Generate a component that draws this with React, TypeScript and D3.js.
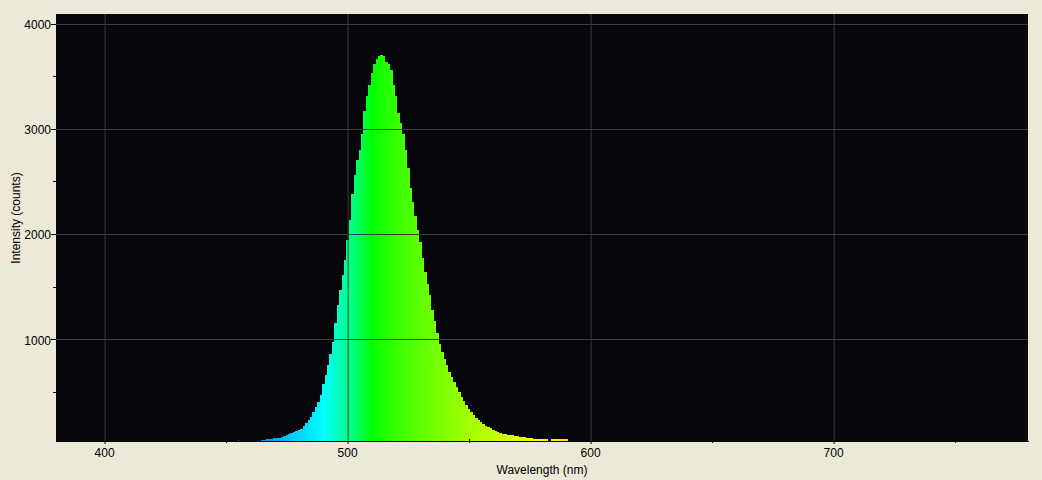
import React from "react";
import * as d3 from "d3";

const startWavelength = 455;
const counts = [
  44, 20, 15, 15, 15, 15, 15, 15, 15, 20,
  40, 40, 48, 50, 52, 56, 60, 63, 70, 78,
  88, 98, 106, 115, 124, 132, 148, 172, 200, 226,
  262, 305, 350, 400, 470, 575, 660, 750, 860, 975,
  1150, 1320, 1470, 1610, 1750, 1940, 2130, 2380, 2560, 2700,
  2800, 2950, 3170, 3310, 3420, 3530, 3620, 3660, 3690, 3700,
  3690, 3640, 3615, 3560, 3420, 3310, 3150, 3060, 2950, 2800,
  2630, 2440, 2300, 2170, 2040, 1920, 1770, 1640, 1520, 1420,
  1280, 1170, 1060, 950, 880, 810, 750, 690, 640, 590,
  545, 500, 450, 410, 370, 335, 305, 275, 250, 228,
  210, 190, 178, 168, 150, 134, 130, 118, 108, 100,
  94, 91, 89, 84, 80, 76, 72, 70, 66, 63,
  58, 55, 52, 50, 50, 50, 50, 50, 25, 50,
  50, 50, 50, 50, 50, 50, 20,
];
const wavelengths = counts.map((_, i) => startWavelength + i);

const xMajorTicks = [400, 500, 600, 700];
const xMinorTicks = [450, 550, 650, 750];
const yMajorTicks = [1000, 2000, 3000, 4000];
const yMinorTicks = [500, 1500, 2500, 3500];

const xLabel = "Wavelength (nm)";
const yLabel = "Intensity (counts)";

function spectralColor(w: number): string {
  let r = 0, g = 0, b = 0;
  if (w < 440) { r = -(w - 440) / 60; b = 1; }
  else if (w < 490) { g = (w - 440) / 50; b = 1; }
  else if (w < 510) { g = 1; b = -(w - 510) / 20; }
  else if (w < 580) { r = (w - 510) / 70; g = 1; }
  else if (w < 645) { r = 1; g = -(w - 645) / 65; }
  else { r = 1; }
  const gm = 0.8;
  const f = (c: number) => Math.round(255 * Math.pow(Math.max(0, c), gm));
  return `rgb(${f(r)},${f(g)},${f(b)})`;
}

const W = 1042, H = 480;
const L = 56, R = 1028, T = 14, B = 441;
const FONT = "'Liberation Sans', Arial, sans-serif";

export default function App() {
  const x = d3.scaleLinear().domain([380, 780]).range([L, R]);
  const y = d3.scaleLinear().domain([31, 4092]).range([B, T]);
  const yMin = y.domain()[0];

  const data = wavelengths.map((w, i) => ({ w, v: counts[i] }));
  const area = d3
    .area<{ w: number; v: number }>()
    .x((d) => x(d.w))
    .y0(y(yMin))
    .y1((d) => y(Math.max(d.v, yMin)))
    .curve(d3.curveStep);

  const gradStops = d3.range(380, 781, 5);

  return (
    <svg width={W} height={H} style={{ position: "absolute", left: 0, top: 0, display: "block" }}>
      <defs>
        <linearGradient id="spec" gradientUnits="userSpaceOnUse" x1={x(380)} x2={x(780)} y1={0} y2={0}>
          {gradStops.map((w) => (
            <stop key={w} offset={(w - 380) / 400} stopColor={spectralColor(w)} />
          ))}
        </linearGradient>
        <clipPath id="plotclip">
          <rect x={L} y={T} width={R - L} height={B - T} />
        </clipPath>
      </defs>
      <rect x={0} y={0} width={W} height={H} fill="#ECE9D8" />
      <rect x={L} y={T} width={R - L} height={B - T} fill="#060509" />
      <g clipPath="url(#plotclip)">
        <path d={area(data) || ""} fill="url(#spec)" shapeRendering="crispEdges" />
        {xMajorTicks.map((t) => (
          <line key={"gx" + t} x1={x(t) + 0.5} x2={x(t) + 0.5} y1={T} y2={B} stroke="#3c3c3c" strokeWidth={1} />
        ))}
        {yMajorTicks.map((t) => (
          <line key={"gy" + t} x1={L} x2={R} y1={Math.round(y(t)) + 0.5} y2={Math.round(y(t)) + 0.5} stroke="#3c3c3c" strokeWidth={1} />
        ))}
      </g>
      <line x1={L} x2={R + 1} y1={B + 0.5} y2={B + 0.5} stroke="#000" strokeWidth={1} />
      {xMajorTicks.map((t) => (
        <line key={"xt" + t} x1={x(t) + 0.5} x2={x(t) + 0.5} y1={B} y2={B + 3} stroke="#000" />
      ))}
      {xMinorTicks.map((t) => (
        <line key={"xm" + t} x1={x(t) + 0.5} x2={x(t) + 0.5} y1={B - 2} y2={B + 2} stroke="#000" />
      ))}
      {xMajorTicks.map((t) => (
        <text key={"xl" + t} x={x(t)} y={457} textAnchor="middle" fontFamily={FONT} fontSize={12} fill="#000">
          {t}
        </text>
      ))}
      {yMajorTicks.map((t) => (
        <line key={"yt" + t} x1={L - 5} x2={L} y1={Math.round(y(t)) + 0.5} y2={Math.round(y(t)) + 0.5} stroke="#000" />
      ))}
      {yMinorTicks.map((t) => (
        <line key={"ym" + t} x1={L - 3} x2={L} y1={Math.round(y(t)) + 0.5} y2={Math.round(y(t)) + 0.5} stroke="#000" />
      ))}
      {yMajorTicks.map((t) => (
        <text key={"yl" + t} x={L - 5} y={y(t) + 5.5} textAnchor="end" fontFamily={FONT} fontSize={12} fill="#000">
          {t}
        </text>
      ))}
      <text x={(L + R) / 2} y={474} textAnchor="middle" fontFamily={FONT} fontSize={12} fill="#000">
        {xLabel}
      </text>
      <text
        transform={`translate(20,218) rotate(-90)`}
        textAnchor="middle"
        fontFamily={FONT}
        fontSize={12}
        fill="#000"
      >
        {yLabel}
      </text>
    </svg>
  );
}
